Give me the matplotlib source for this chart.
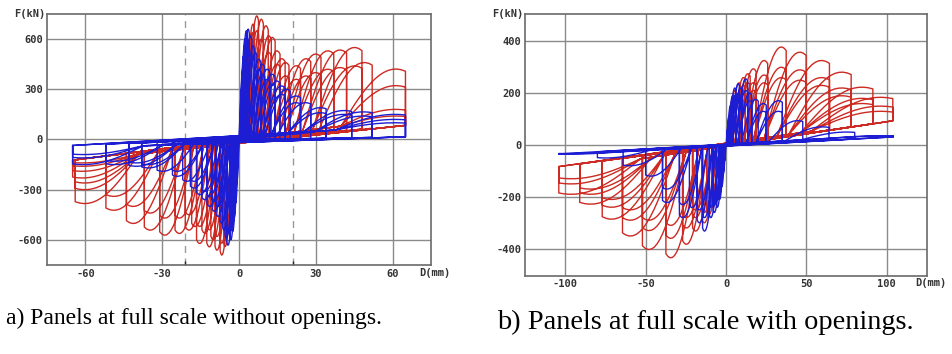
import numpy as np
import matplotlib
matplotlib.use("Agg")
import matplotlib.pyplot as plt


# Panel a: full-scale panels without openings.
# One entry per load cycle: peak displacement (mm) and peak force (kN), push and pull side.
RED_A_DPOS = [1.0, 2.0, 3.0, 4.5, 4.5, 6.0, 6.0, 7.6, 7.6, 9.5, 9.5, 11.4, 12.6, 12.6, 14.1, 16.0, 16.0,
              18.0, 19.5, 19.5, 24.0, 24.0, 28.0, 28.0, 32.0, 32.0, 37.0, 37.0, 42.0, 42.0, 48.0, 48.0,
              52.0, 65.0, 65.0, 65.0, 65.0]
RED_A_FPOS = [180, 330, 470, 600, 560, 690, 640, 739, 650, 719, 600, 680, 620, 520, 610, 530, 450,
              483, 460, 380, 441, 360, 483, 380, 511, 400, 530, 420, 535, 430, 550, 440,
              460, 421, 322, 180, 140]
RED_A_DNEG = [-1.0, -2.0, -3.2, -4.6, -4.6, -6.0, -6.0, -7.4, -7.4, -9.4, -9.4, -11.0, -12.6, -12.6, -14.5,
              -16.6, -16.6, -18.5, -21.0, -21.0, -25.0, -25.0, -31.0, -31.0, -37.0, -37.0, -44.0, -44.0,
              -52.0, -52.0, -64.0, -64.0, -64.0, -65.0, -65.0, -65.0, -65.0]
RED_A_FNEG = [-170, -310, -430, -560, -520, -640, -600, -691, -620, -662, -580, -600, -642, -540, -560,
              -622, -520, -520, -542, -450, -562, -470, -572, -470, -542, -440, -502, -400,
              -423, -340, -383, -300, -260, -230, -190, -160, -140]

BLUE_A_DPOS = [0.5, 1.0, 1.5, 2.0, 2.0, 2.6, 2.6, 3.2, 3.2, 4.0, 4.0, 5.0, 6.0, 6.0, 7.0, 8.5, 8.5,
               10.0, 10.0, 12.0, 12.0, 14.0, 14.0, 16.0, 18.0, 18.0, 20.0, 24.0, 24.0, 28.0, 34.0, 34.0,
               44.0, 44.0, 52.0, 52.0, 65.0, 65.0, 65.0]
BLUE_A_FPOS = [150, 280, 400, 500, 460, 600, 540, 650, 590, 660, 580, 620, 560, 500, 520, 480, 420,
               450, 390, 420, 360, 390, 330, 350, 320, 270, 300, 260, 220, 220, 190, 160,
               173, 150, 165, 140, 150, 120, 100]
BLUE_A_DNEG = [-0.5, -1.0, -1.5, -2.2, -2.2, -2.8, -2.8, -3.6, -3.6, -4.8, -4.8, -5.5, -6.5, -6.5, -7.5,
               -9.0, -9.0, -10.5, -10.5, -12.5, -12.5, -14.5, -14.5, -16.5, -19.0, -19.0, -22.0, -26.0,
               -26.0, -32.0, -38.0, -38.0, -43.0, -43.0, -52.0, -52.0, -65.0, -65.0, -65.0]
BLUE_A_FNEG = [-140, -260, -380, -470, -430, -550, -500, -600, -540, -632, -560, -590, -540, -480, -500,
               -460, -400, -430, -370, -400, -340, -360, -310, -330, -290, -250, -250, -220,
               -190, -190, -170, -150, -160, -140, -150, -130, -150, -110, -90]

# Panel b: full-scale panels with openings.
RED_B_DPOS = [2.0, 4.0, 6.0, 9.0, 12.0, 12.0, 15.0, 15.0, 18.7, 18.7, 18.7, 25.9, 25.9, 25.9,
              37.4, 37.4, 37.4, 49.8, 49.8, 49.8, 64.3, 64.3, 64.3, 77.8, 77.8, 77.8,
              91.3, 91.3, 91.3, 103.7, 103.7, 103.7]
RED_B_FPOS = [100, 170, 210, 240, 260, 230, 275, 240, 294, 240, 210, 326, 270, 240,
              378, 300, 260, 358, 290, 250, 326, 260, 230, 281, 220, 190,
              223, 180, 160, 184, 150, 130]
RED_B_DNEG = [-2.0, -4.0, -6.0, -9.0, -12.0, -12.0, -15.0, -15.0, -20.8, -20.8, -20.8, -27.0, -27.0, -27.0,
              -37.4, -37.4, -37.4, -52.0, -52.0, -52.0, -64.4, -64.4, -64.4, -77.0, -77.0, -77.0,
              -91.0, -91.0, -91.0, -104.0, -104.0, -104.0]
RED_B_FNEG = [-90, -160, -200, -240, -270, -240, -300, -260, -332, -280, -250, -383, -320, -280,
              -435, -360, -310, -403, -330, -290, -351, -290, -250, -286, -240, -210,
              -228, -190, -170, -190, -150, -130]

BLUE_B_DPOS = [1.0, 2.0, 3.0, 4.5, 4.5, 6.0, 6.0, 8.3, 8.3, 10.0, 10.0, 13.5, 13.5, 16.0, 16.0,
               20.0, 25.0, 25.0, 35.0, 35.0, 47.7, 64.0, 80.0, 104.0, 104.0]
BLUE_B_FPOS = [60, 110, 150, 190, 170, 220, 190, 236, 200, 220, 190, 255, 210, 200, 170,
               176, 160, 130, 171, 130, 94, 70, 50, 36, 34]
BLUE_B_DNEG = [-1.0, -2.0, -3.0, -4.5, -4.5, -6.0, -6.0, -8.0, -8.0, -10.4, -10.4, -14.6, -14.6, -18.0, -18.0,
               -22.8, -29.0, -29.0, -39.5, -39.5, -50.0, -64.0, -80.0, -104.0, -104.0]
BLUE_B_FNEG = [-60, -110, -160, -210, -190, -240, -210, -260, -230, -280, -240, -332, -280, -300, -250,
               -241, -280, -230, -222, -170, -120, -80, -50, -35, -33]

RED = "#cc2a22"
BLUE = "#1d1dd4"
GRID = "#8a8a8a"
TICK_FONT = dict(family="DejaVu Sans Mono", weight="bold", size=7.5, color="#333333")


def hysteresis_path(dpos, fpos, dneg, fneg, start_frac, d_ref, unload_slope, reload_slope, n=16):
    """Chain the cycles into one continuous load-displacement trace."""
    t = np.linspace(0.0, 1.0, n)
    shape = np.sin(t * np.pi / 2 / 0.85)  # force peaks shortly before the reversal
    xs, ys = [0.0], [0.0]
    for dp, fp, dn, fn in zip(dpos, fpos, dneg, fneg):
        for d, f, side in ((dp, fp, 0), (dn, fn, 1)):
            # small cycles reload from close to the origin, large ones from the pinched band
            x0 = start_frac * d * abs(d) / (abs(d) + d_ref)
            y0 = reload_slope[side] * x0
            xs.extend(x0 + (d - x0) * t)
            ys.extend(y0 + (f - y0) * shape)
            # near-vertical unloading down to the pinched branch
            xs.append(d)
            ys.append(unload_slope[side] * d)
    return np.array(xs), np.array(ys)


def style_axes(ax, xticks, yticks, xlim, ylim, xlab_pos, tick_pad):
    ax.set_xlim(*xlim)
    ax.set_ylim(*ylim)
    ax.set_xticks(xticks)
    ax.set_yticks(yticks)
    ax.set_xticklabels([str(v) for v in xticks], fontdict=TICK_FONT)
    ax.set_yticklabels([str(v) for v in yticks], fontdict=TICK_FONT)
    ax.tick_params(which="major", length=0, pad=tick_pad)
    ax.grid(True, which="major", color=GRID, lw=1.0)
    ax.set_axisbelow(True)
    for spine in ax.spines.values():
        spine.set_color("#6a6a6a")
        spine.set_linewidth(1.2)
    ax.text(-0.004, 1.0, "F(kN)", transform=ax.transAxes, ha="right", va="center", **TICK_FONT)
    ax.text(xlab_pos[0], xlab_pos[1], "D(mm)", transform=ax.transAxes, ha="left", va="center",
            clip_on=False, **TICK_FONT)


def main():
    plt.rcParams["font.family"] = ["DejaVu Sans"]
    fig = plt.figure(figsize=(9.52, 3.54), dpi=100)

    ax_a = fig.add_axes([0.0494, 0.2514, 0.4034, 0.7091])
    x, y = hysteresis_path(RED_A_DPOS, RED_A_FPOS, RED_A_DNEG, RED_A_FNEG,
                           0.66, 5.0, (1.3, 1.9), (2.0, 2.2))
    ax_a.plot(x, y, color=RED, lw=1.0)
    x, y = hysteresis_path(BLUE_A_DPOS, BLUE_A_FPOS, BLUE_A_DNEG, BLUE_A_FNEG,
                           0.62, 5.0, (0.25, 0.55), (1.5, 1.0))
    ax_a.plot(x, y, color=BLUE, lw=1.0)
    for xv in (-21, 21):
        ax_a.axvline(xv, color="#9a9a9a", lw=1.0, ls=(0, (5, 4)), zorder=0.5)
    style_axes(ax_a, [-60, -30, 0, 30, 60], [-600, -300, 0, 300, 600],
               (-75, 75), (-750, 750), (0.969, -0.032), 3.0)
    # short marks at the base of the dashed drift limits
    ax_a.set_xticks([-21, 21], minor=True)
    ax_a.tick_params(which="minor", direction="in", length=3, width=1.0, color="#222222")

    ax_b = fig.add_axes([0.5515, 0.2203, 0.4223, 0.7401])
    x, y = hysteresis_path(RED_B_DPOS, RED_B_FPOS, RED_B_DNEG, RED_B_FNEG,
                           0.55, 8.0, (0.9, 0.8), (1.0, 1.0))
    ax_b.plot(x, y, color=RED, lw=1.0)
    x, y = hysteresis_path(BLUE_B_DPOS, BLUE_B_FPOS, BLUE_B_DNEG, BLUE_B_FNEG,
                           0.62, 6.0, (0.3, 0.33), (0.4, 0.4))
    ax_b.plot(x, y, color=BLUE, lw=1.0)
    style_axes(ax_b, [-100, -50, 0, 50, 100], [-400, -200, 0, 200, 400],
               (-125, 125), (-505, 505), (0.970, -0.027), 2.5)

    fig.text(0.0063, 0.1017, "a) Panels at full scale without openings.",
             family="Liberation Serif", size=17, ha="left", va="center")
    fig.text(0.522, 0.0904, "b) Panels at full scale with openings.",
             family="Liberation Serif", size=20.4, ha="left", va="center")

    fig.savefig("out.png", dpi=100)
    plt.close(fig)


if __name__ == "__main__":
    main()
